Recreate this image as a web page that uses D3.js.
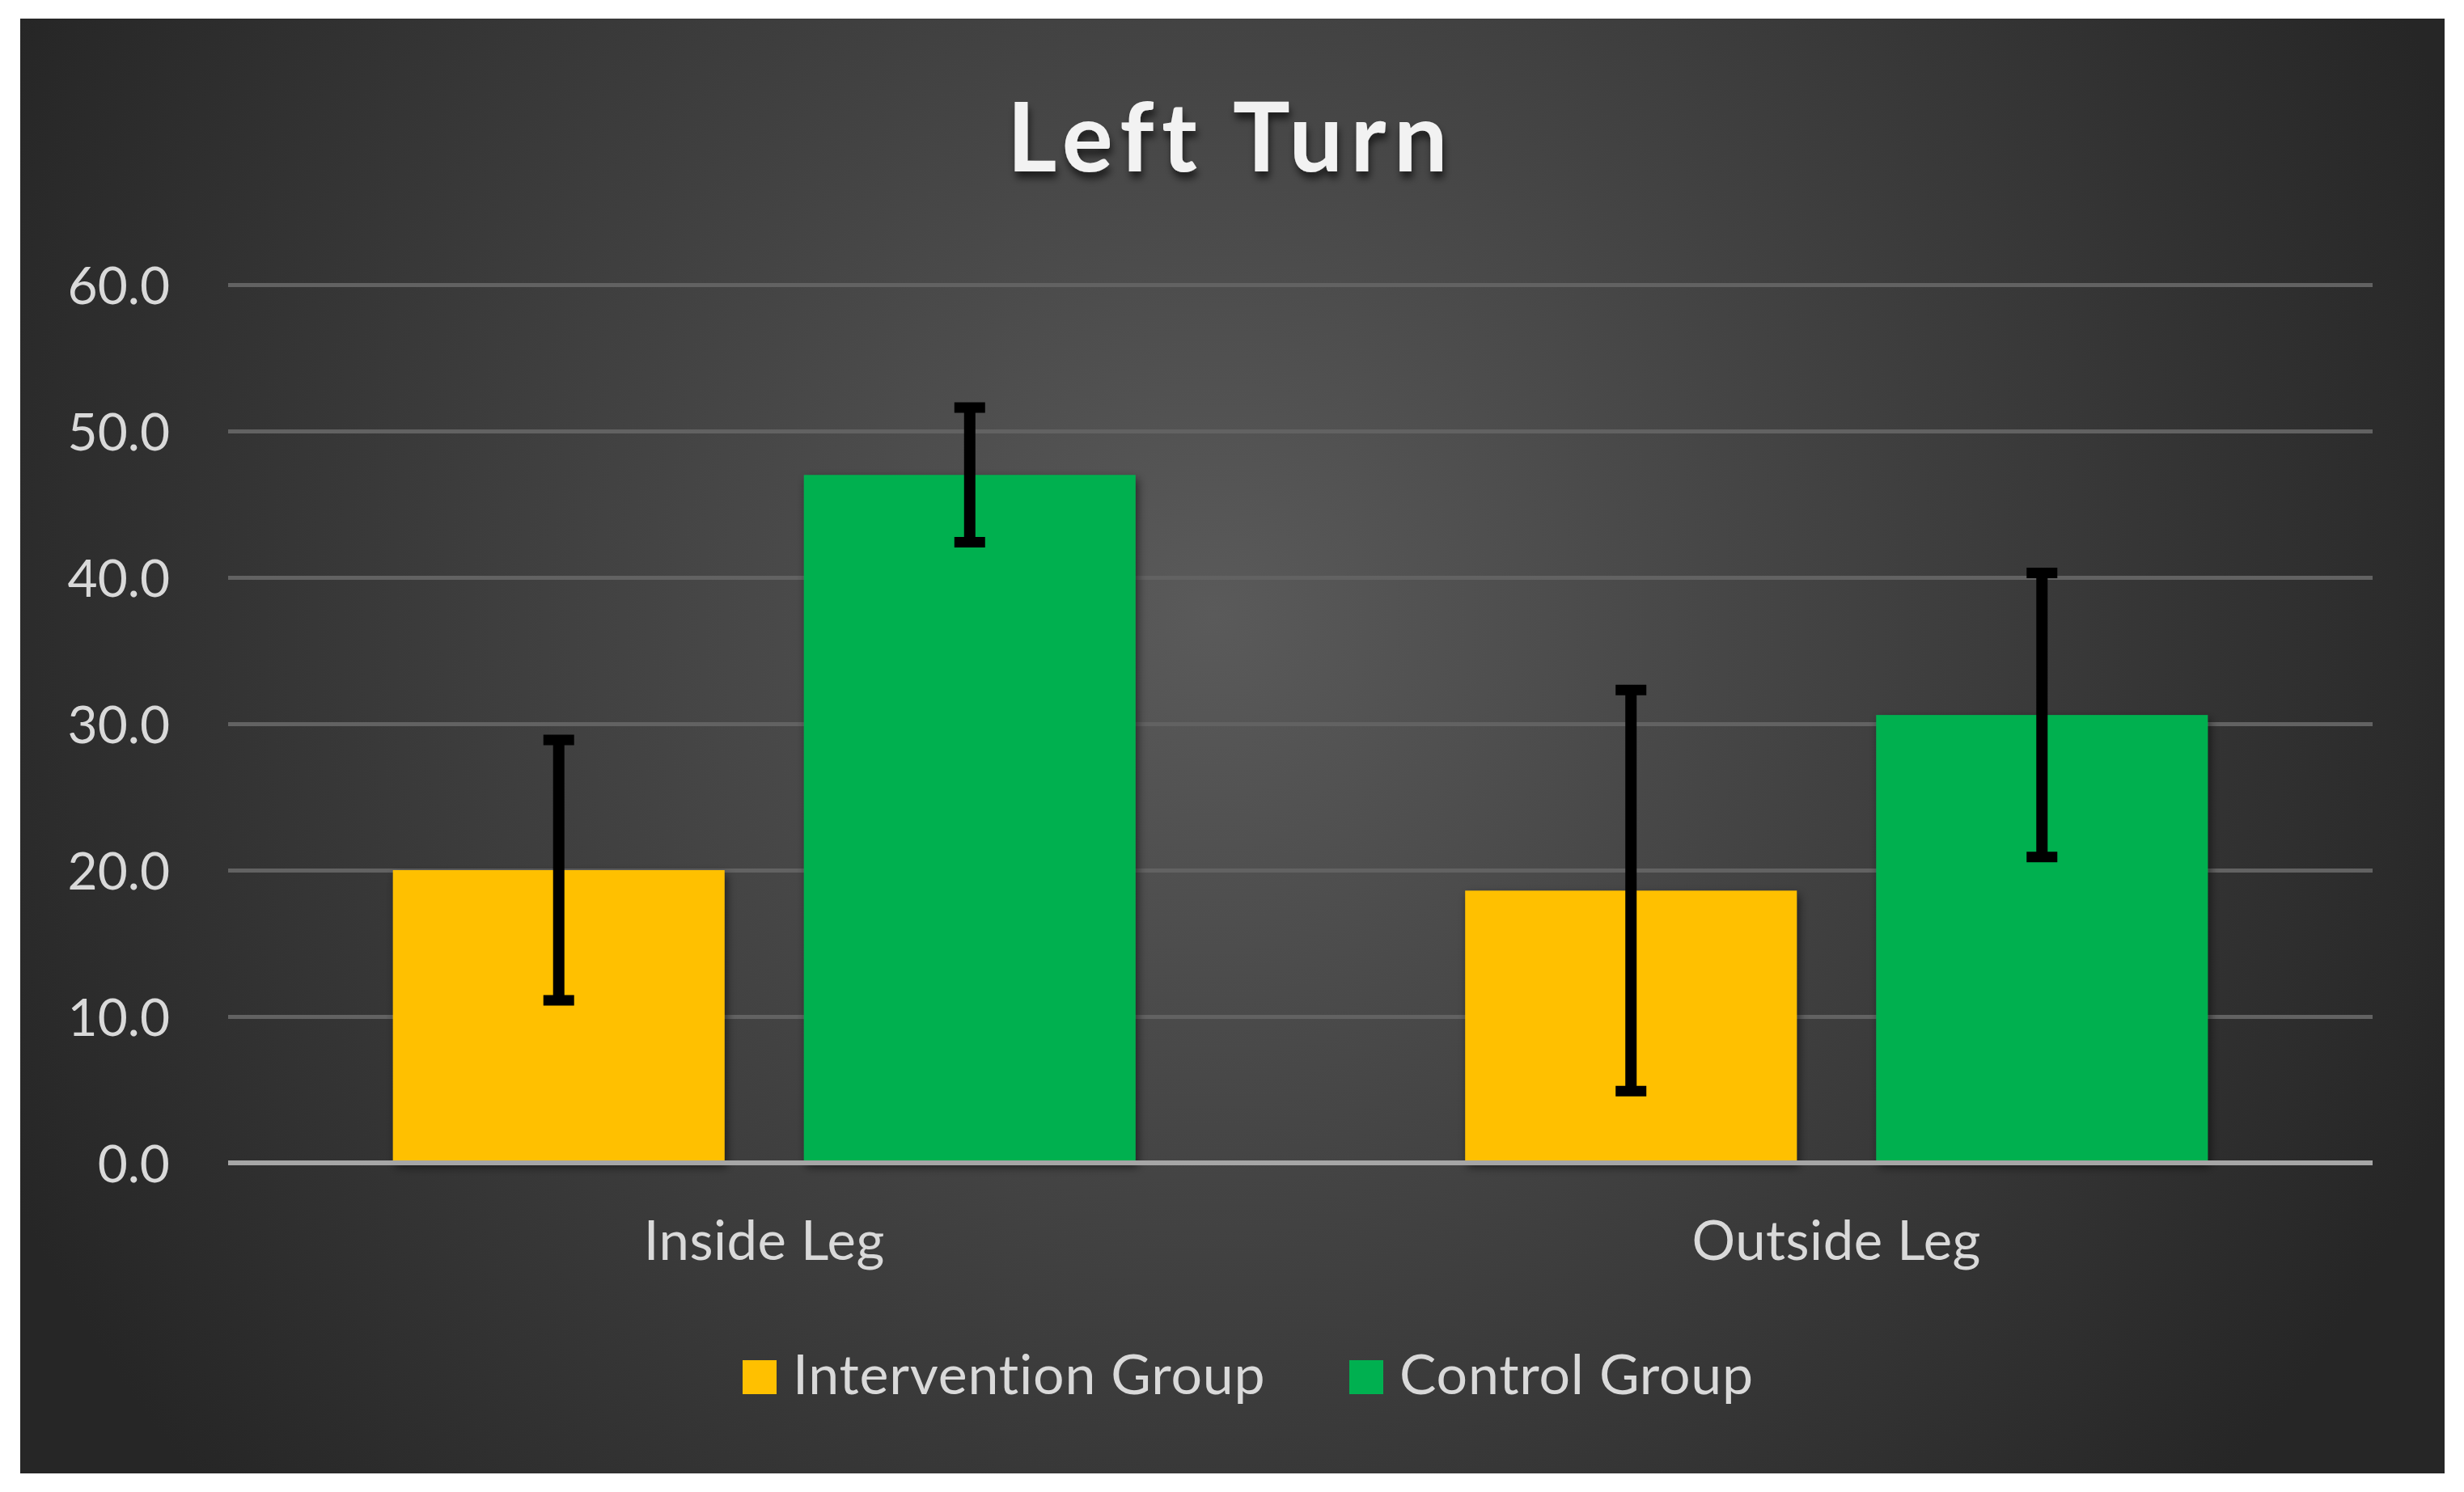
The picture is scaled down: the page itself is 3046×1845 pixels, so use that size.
<!DOCTYPE html>
<html><head><meta charset="utf-8">
<script src="https://cdn.jsdelivr.net/npm/d3@7"></script>
<style>html,body{margin:0;padding:0;background:#fff;}svg{display:block;}text{font-variant-ligatures:none;font-feature-settings:"liga" 0;}</style>
</head><body>
<script>
const categories = ["Inside Leg", "Outside Leg"];
const seriesNames = ["Intervention Group", "Control Group"];
const interventionValues = [20.0, 18.6];
const controlValues = [47.0, 30.6];
const interventionErrors = [8.9, 13.7];
const controlErrors = [4.6, 9.7];
const yTicks = [0, 10, 20, 30, 40, 50, 60];
const seriesColors = ["#FFC000", "#00B050"];
const titleText = "Left Turn";

const W = 3046, H = 1845;
const FONT = "Lato, 'Open Sans', sans-serif";
const svg = d3.select("body").append("svg").attr("width", W).attr("height", H);
const defs = svg.append("defs");
const rg = defs.append("radialGradient").attr("id", "bg").attr("gradientUnits", "userSpaceOnUse")
  .attr("cx", 1500).attr("cy", 760).attr("r", 1650);
rg.append("stop").attr("offset", "0").attr("stop-color", "#5a5a5a");
rg.append("stop").attr("offset", "1").attr("stop-color", "#262626");
const sh = defs.append("filter").attr("id", "shadow").attr("x", "-10%").attr("y", "-10%").attr("width", "130%").attr("height", "130%");
sh.append("feDropShadow").attr("dx", 3).attr("dy", 5).attr("stdDeviation", 6).attr("flood-color", "#000").attr("flood-opacity", 0.55);
const tsh = defs.append("filter").attr("id", "tshadow").attr("x", "-10%").attr("y", "-10%").attr("width", "130%").attr("height", "140%");
tsh.append("feDropShadow").attr("dx", 2).attr("dy", 8).attr("stdDeviation", 5).attr("flood-color", "#000").attr("flood-opacity", 0.6);

svg.append("rect").attr("x", 25).attr("y", 23).attr("width", 2997).attr("height", 1799).attr("fill", "url(#bg)");

const plotL = 282, plotR = 2933, plotT = 352, plotB = 1438;
const y = d3.scaleLinear().domain([0, 60]).range([plotB, plotT]);
const x0 = d3.scaleBand().domain(categories).range([plotL, plotR]).paddingInner(0).paddingOuter(0);
const x1 = d3.scaleBand().domain(seriesNames).range([0, x0.bandwidth()]).paddingInner(0.193).paddingOuter(0.401);

// gridlines
const yAxis = d3.axisLeft(y).tickValues(yTicks).tickSize(-(plotR - plotL)).tickFormat(d => d3.format(".1f")(d));
const gy = svg.append("g").attr("transform", `translate(${plotL},0)`).call(yAxis);
gy.select(".domain").remove();
gy.selectAll(".tick line").attr("stroke", "#626262").attr("stroke-width", 5);
gy.selectAll(".tick text").attr("x", -72).attr("fill", "#D9D9D9")
  .attr("font-family", FONT).attr("font-size", 64).attr("dy", "0.36em");

const data = categories.map((c, i) => ({
  cat: c,
  vals: [
    { s: seriesNames[0], v: interventionValues[i], e: interventionErrors[i], c: seriesColors[0] },
    { s: seriesNames[1], v: controlValues[i], e: controlErrors[i], c: seriesColors[1] }
  ]
}));

const groups = svg.selectAll("g.grp").data(data).join("g").attr("class", "grp")
  .attr("transform", d => `translate(${x0(d.cat)},0)`);
groups.selectAll("rect").data(d => d.vals).join("rect")
  .attr("x", d => x1(d.s)).attr("width", x1.bandwidth())
  .attr("y", d => y(d.v)).attr("height", d => y(0) - y(d.v))
  .attr("fill", d => d.c).attr("filter", "url(#shadow)");

// x axis line
svg.append("line").attr("x1", plotL).attr("x2", plotR).attr("y1", y(0)).attr("y2", y(0))
  .attr("stroke", "#A6A6A6").attr("stroke-width", 6);

// error bars
const eb = groups.selectAll("g.eb").data(d => d.vals).join("g").attr("class", "eb");
eb.append("line").attr("x1", d => x1(d.s) + x1.bandwidth() / 2).attr("x2", d => x1(d.s) + x1.bandwidth() / 2)
  .attr("y1", d => y(d.v + d.e)).attr("y2", d => y(d.v - d.e)).attr("stroke", "#000").attr("stroke-width", 14);
[1, -1].forEach(sgn => {
  eb.append("line").attr("x1", d => x1(d.s) + x1.bandwidth() / 2 - 19).attr("x2", d => x1(d.s) + x1.bandwidth() / 2 + 19)
    .attr("y1", d => y(d.v + sgn * d.e)).attr("y2", d => y(d.v + sgn * d.e)).attr("stroke", "#000").attr("stroke-width", 13);
});

// category labels
svg.selectAll("text.cat").data(categories).join("text").attr("class", "cat")
  .attr("x", d => x0(d) + x0.bandwidth() / 2).attr("y", 1558).attr("text-anchor", "middle")
  .attr("fill", "#D9D9D9").attr("font-family", FONT).attr("font-size", 67).attr("letter-spacing", 0.5).text(d => d);

// title
svg.append("text").attr("x", 1522).attr("y", 212).attr("text-anchor", "middle")
  .attr("fill", "#F2F2F2").attr("font-family", FONT).attr("font-weight", "bold")
  .attr("font-size", 118).attr("letter-spacing", 9.5).attr("filter", "url(#tshadow)").text(titleText);

// legend
const legendX = [918, 1668];
const lg = svg.selectAll("g.leg").data(seriesNames).join("g").attr("class", "leg")
  .attr("transform", (d, i) => `translate(${legendX[i]},0)`);
lg.append("rect").attr("x", 0).attr("y", 1682).attr("width", 42).attr("height", 42).attr("fill", (d, i) => seriesColors[i]);
lg.append("text").attr("x", 62).attr("y", 1724).attr("fill", "#D9D9D9")
  .attr("font-family", FONT).attr("font-size", 68).attr("letter-spacing", 0.8).text(d => d);
</script>
</body></html>
